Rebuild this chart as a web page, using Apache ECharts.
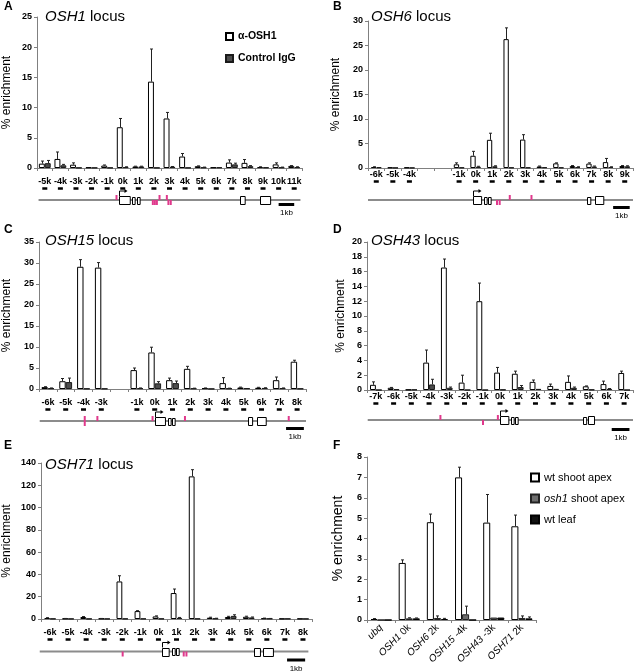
<!DOCTYPE html>
<html>
<head>
<meta charset="utf-8">
<script src="https://cdn.jsdelivr.net/npm/echarts@6/dist/echarts.min.js"></script>
<style>
  html, body { margin: 0; padding: 0; background: #fff; }
  #chart { width: 638px; height: 671px; }
</style>
</head>
<body>
<div id="chart"></div>
<script>
// ---- A: OSH1 locus
const aCats = ['-5k','-4k','-3k','-2k','-1k','0k','1k','2k','3k','4k','5k','6k','7k','8k','9k','10k','11k'];
const aOsh = [0.72, 1.5, 0.55, 0.1, 0.4, 6.75, 0.25, 14.3, 8.2, 1.9, 0.3, 0.1, 0.9, 0.85, 0.15, 0.6, 0.35];
const aOshErr = [0.43, 1.15, 0.3, 0, 0.1, 1.45, 0.05, 5.4, 1.0, 0.5, 0.05, 0, 0.45, 0.55, 0.05, 0.25, 0.05];
const aIgg = [0.8, 0.45, 0.05, 0.05, 0.05, 0.15, 0.25, 0.05, 0.2, 0.05, 0.1, 0.1, 0.6, 0.3, 0.1, 0.1, 0.15];
const aIggErr = [0.45, 0.15, 0, 0, 0, 0.05, 0.05, 0, 0.05, 0, 0.05, 0, 0.2, 0.1, 0, 0.05, 0.05];
const aLine = [-5.4, 11.4];
const aExons = [[-0.22, 0.47], [0.62, 0.79], [0.9, 1.07], [7.5, 7.8], [8.8, 9.45]];
const aPinks = [[-0.4, 1], [1.93, -1], [2.06, -1], [2.19, -1], [2.36, 1], [2.83, 1], [2.93, -1], [3.08, -1]];
const aTss = -0.22;
const aScale = 10.0;

// ---- B: OSH6 locus
const bCats = ['-6k','-5k','-4k','','','-1k','0k','1k','2k','3k','4k','5k','6k','7k','8k','9k'];
const bOsh = [0.2, 0.1, 0.1, null, null, 0.75, 2.5, 5.75, 26.3, 5.8, 0.3, 0.95, 0.4, 0.9, 1.2, 0.4];
const bOshErr = [0.05, 0, 0, 0, 0, 0.3, 0.9, 1.35, 2.3, 1.0, 0.1, 0.1, 0.1, 0.15, 0.75, 0.1];
const bIgg = [0.15, 0.05, 0.05, null, null, 0.1, 0.25, 0.35, 0.1, 0.1, 0.15, 0.1, 0.2, 0.3, 0.2, 0.35];
const bIggErr = [0, 0, 0, 0, 0, 0, 0.1, 0.1, 0, 0, 0, 0, 0.05, 0.1, 0.05, 0.1];
const bLine = [-6.5, 9.5];
const bExons = [[-0.14, 0.35], [0.49, 0.65], [0.75, 0.91], [6.74, 6.94], [7.18, 7.68]];
const bPinks = [[1.29, -1], [1.45, -1], [2.06, 1], [3.37, 1]];
const bTss = -0.14;
const bScale = 8.3;

// ---- C: OSH15 locus
const cCats = ['-6k','-5k','-4k','-3k','','-1k','0k','1k','2k','3k','4k','5k','6k','7k','8k'];
const cOsh = [0.45, 1.85, 29.1, 28.9, null, 4.5, 8.7, 2.1, 4.8, 0.2, 1.4, 0.35, 0.3, 2.1, 6.5];
const cOshErr = [0.1, 0.65, 1.7, 1.2, 0, 0.5, 1.25, 0.5, 0.6, 0.05, 1.3, 0.1, 0.1, 0.75, 0.35];
const cIgg = [0.2, 1.65, 0.1, 0.1, null, 0.2, 1.35, 1.4, 0.15, 0.05, 0.15, 0.2, 0.25, 0.2, 0.1];
const cIggErr = [0.05, 0.95, 0, 0, 0, 0.05, 0.4, 0.5, 0.05, 0, 0.05, 0, 0.05, 0.05, 0];
const cLine = [-6.46, 8.5];
const cExons = [[0.03, 0.59], [0.72, 0.87], [0.98, 1.13], [5.26, 5.49], [5.73, 6.22]];
const cPinks = [[-3.93, 0], [-3.22, 1], [-0.12, 1], [1.7, 1], [7.53, 1]];
const cTss = 0.03;
const cScale = 7.38;

// ---- D: OSH43 locus
const dCats = ['-7k','-6k','-5k','-4k','-3k','-2k','-1k','0k','1k','2k','3k','4k','5k','6k','7k'];
const dOsh = [0.7, 0.3, 0.05, 3.7, 16.55, 1.0, 12.0, 2.35, 2.2, 1.1, 0.55, 1.1, 0.5, 0.8, 2.3];
const dOshErr = [0.4, 0.05, 0, 1.7, 1.15, 1.0, 2.45, 0.7, 0.35, 0.25, 0.25, 0.8, 0.05, 0.4, 0.25];
const dIgg = [0, 0.1, 0.05, 0.75, 0.3, 0, 0, 0.05, 0.4, 0.15, 0.15, 0.3, 0.05, 0.15, 0];
const dIggErr = [0, 0, 0, 0.7, 0.1, 0, 0, 0, 0.2, 0, 0, 0.1, 0, 0.05, 0];
const dLine = [-7.46, 7.5];
const dExons = [[0.01, 0.48], [0.6, 0.75], [0.84, 0.99], [4.67, 4.85], [4.97, 5.31]];
const dPinks = [[-3.36, 1], [-0.96, -1], [-0.12, 1]];
const dTss = 0.01;
const dScale = 6.3;

// ---- E: OSH71 locus
const eCats = ['-6k','-5k','-4k','-3k','-2k','-1k','0k','1k','2k','3k','4k','5k','6k','7k','8k'];
const eOsh = [0.9, 0.4, 1.8, 0.4, 33.7, 7.1, 2.3, 23.3, 128, 1.2, 1.8, 2.0, 0.6, 0.3, 0.3];
const eOshErr = [0.3, 0.1, 0.4, 0.1, 5.1, 0.4, 0.5, 3.6, 6, 0.4, 0.6, 0.5, 0.2, 0.1, 0.1];
const eIgg = [0.3, 0.2, 0.2, 0.2, 0.3, 0.3, 0.3, 1.0, 0.3, 0.5, 2.8, 1.4, 0.4, 0.3, 0.2];
const eIggErr = [0, 0, 0, 0, 0, 0, 0, 0.4, 0, 0.2, 1.0, 0.4, 0.1, 0, 0];
const eLine = [-6.57, 8.3];
const eExons = [[0.2, 0.57], [0.75, 0.9], [0.99, 1.14], [5.31, 5.64], [5.79, 6.34]];
const ePinks = [[-1.98, -1], [1.4, -1], [1.55, -1]];
const eTss = 0.2;
const eScale = 7.12;

// ---- F: summary
const fCats = ['ubq', 'OSH1 0k', 'OSH6 2k', 'OSH15 -4k', 'OSH43 -3k', 'OSH71 2k'];
const fWt = [0.05, 2.8, 4.8, 7.0, 4.78, 4.6];
const fWtErr = [0.02, 0.15, 0.4, 0.5, 1.38, 0.55];
const fOsh1 = [0, 0.08, 0.1, 0.28, 0.12, 0.1];
const fOsh1Err = [0, 0.03, 0.1, 0.4, 0, 0.1];
const fLeaf = [0, 0.08, 0.05, 0, 0.12, 0.08];
const fLeafErr = [0, 0.02, 0.03, 0, 0, 0.07];

const FONT = '"Liberation Sans", Arial, Helvetica, sans-serif';
const AXIS_GRAY = '#808080';
const PINK = '#e0398c';

const panels = [
  { name: 'OSH1', letter: 'A', cats: aCats, kb0: -5, osh: aOsh, oshErr: aOshErr, igg: aIgg, iggErr: aIggErr,
    line: aLine, exons: aExons, pinks: aPinks, tss: aTss, scale: aScale, max: 25, step: 5,
    rect: { left: 37, top: 17, width: 265, height: 151 }, geneY: 200, margin: 9, nameGap: 24, ratio: 0.38, scaleOff: 3,
    titleX: 45, titleY: 17, letterX: 4, letterY: 7 },
  { name: 'OSH6', letter: 'B', cats: bCats, kb0: -6, osh: bOsh, oshErr: bOshErr, igg: bIgg, iggErr: bIggErr,
    line: bLine, exons: bExons, pinks: bPinks, tss: bTss, scale: bScale, max: 30, step: 5,
    rect: { left: 368, top: 21, width: 265, height: 147 }, geneY: 200, margin: 2, nameGap: 26, ratio: 0.32, scaleOff: 6,
    titleX: 371, titleY: 17, letterX: 333, letterY: 7 },
  { name: 'OSH15', letter: 'C', cats: cCats, kb0: -6, osh: cOsh, oshErr: cOshErr, igg: cIgg, iggErr: cIggErr,
    line: cLine, exons: cExons, pinks: cPinks, tss: cTss, scale: cScale, max: 35, step: 5,
    rect: { left: 39, top: 242, width: 267, height: 147 }, geneY: 421, margin: 9, nameGap: 26, ratio: 0.36, scaleOff: 6,
    titleX: 45, titleY: 241, letterX: 4, letterY: 230 },
  { name: 'OSH43', letter: 'D', cats: dCats, kb0: -7, osh: dOsh, oshErr: dOshErr, igg: dIgg, iggErr: dIggErr,
    line: dLine, exons: dExons, pinks: dPinks, tss: dTss, scale: dScale, max: 20, step: 2,
    rect: { left: 367, top: 242, width: 266, height: 148 }, geneY: 420, margin: 2, nameGap: 20, ratio: 0.33, scaleOff: 8,
    titleX: 371, titleY: 241, letterX: 333, letterY: 230 },
  { name: 'OSH71', letter: 'E', cats: eCats, kb0: -6, osh: eOsh, oshErr: eOshErr, igg: eIgg, iggErr: eIggErr,
    line: eLine, exons: eExons, pinks: ePinks, tss: eTss, scale: eScale, max: 140, step: 20,
    rect: { left: 41, top: 463, width: 271, height: 156 }, geneY: 652, margin: 9, nameGap: 28, ratio: 0.32, scaleOff: 7,
    titleX: 45, titleY: 465, letterX: 4, letterY: 446 }
];

const grids = [], xAxes = [], yAxes = [], series = [], graphics = [];

function yAxisCfg(gi, max, step, nameGap, nameSize) {
  return {
    gridIndex: gi, type: 'value', min: 0, max: max, interval: step,
    axisLine: { show: true, lineStyle: { color: AXIS_GRAY } },
    axisTick: { show: true, length: 3, lineStyle: { color: AXIS_GRAY } },
    splitLine: { show: false },
    axisLabel: { color: '#000', fontSize: 9, fontWeight: 'bold', fontFamily: FONT, margin: 5 },
    name: '% enrichment', nameLocation: 'middle', nameGap: nameGap,
    nameTextStyle: { fontSize: nameSize, color: '#000', fontFamily: FONT }
  };
}

function errSeries(gi, name, vals, errs, k, n, ratio) {
  const data = [];
  vals.forEach((v, i) => { if (v != null && errs[i]) data.push([i, v, v + errs[i]]); });
  return {
    type: 'custom', name: name + ' err', xAxisIndex: gi, yAxisIndex: gi, silent: true, z: 5,
    data: data,
    renderItem(params, api) {
      const bw = api.size([1, 0])[0] * ratio;
      const base = api.coord([api.value(0), api.value(1)]);
      const top = api.coord([api.value(0), api.value(2)]);
      const x = Math.round(base[0] - n * bw / 2 + (k + 0.5) * bw) + 0.5;
      return { type: 'group', children: [
        { type: 'line', shape: { x1: x, y1: base[1], x2: x, y2: top[1] }, style: { stroke: '#222', lineWidth: 1 } },
        { type: 'line', shape: { x1: x - 1.5, y1: top[1], x2: x + 1.5, y2: top[1] }, style: { stroke: '#222', lineWidth: 1 } }
      ] };
    }
  };
}

// gene diagram: [kind, a, b]  kind 0 line, 1 exon, 2 pink, 3 tss, 4 scale bar
function geneSeries(gi, p) {
  const data = [[0, p.line[0], p.line[1]]];
  p.exons.forEach(e => data.push([1, e[0], e[1]]));
  p.pinks.forEach(m => data.push([2, m[0], m[1]]));
  data.push([3, p.tss, p.tss]);
  data.push([4, p.scale, p.scale + 1]);
  return {
    type: 'custom', xAxisIndex: gi, yAxisIndex: gi, silent: true,
    encode: { x: [1, 2] },
    data: data,
    renderItem(params, api) {
      const kind = api.value(0), a = api.value(1), b = api.value(2);
      const p0 = api.coord([a, 0]), p1 = api.coord([kind === 2 ? a : b, 0]);
      const y = p0[1];
      if (kind === 0) {
        return { type: 'rect', shape: { x: p0[0], y: y - 1, width: p1[0] - p0[0], height: 2 }, style: { fill: '#8c8c8c' } };
      }
      if (kind === 1) {
        const w = p1[0] - p0[0];
        const h = w > 4 ? 8 : 7;
        return { type: 'rect', z2: 2, shape: { x: Math.round(p0[0]) + 0.5, y: Math.round(y - h / 2) + 0.5, width: Math.max(w, 2), height: h },
          style: { fill: '#fff', stroke: '#000', lineWidth: 1 } };
      }
      if (kind === 2) {
        const yTop = b > 0 ? y - 5 : (b < 0 ? y : y - 5);
        const h = b === 0 ? 10 : 5;
        return { type: 'rect', z2: 3, shape: { x: p0[0] - 1, y: yTop, width: 2, height: h }, style: { fill: PINK } };
      }
      if (kind === 3) {
        const x = Math.round(p0[0]) + 0.5;
        return { type: 'group', children: [
          { type: 'polyline', shape: { points: [[x, y - 4], [x, y - 9], [x + 6, y - 9]] }, style: { stroke: '#000', lineWidth: 1, fill: null } },
          { type: 'polygon', shape: { points: [[x + 8, y - 9], [x + 5, y - 11], [x + 5, y - 7]] }, style: { fill: '#000' } }
        ] };
      }
      const off = p.scaleOff;
      return { type: 'group', children: [
        { type: 'rect', shape: { x: p0[0], y: y + off, width: p1[0] - p0[0], height: 3 }, style: { fill: '#000' } },
        { type: 'text', x: (p0[0] + p1[0]) / 2, y: y + off + 10, style: { text: '1kb', fontSize: 8, fontFamily: FONT, fill: '#000', align: 'center', verticalAlign: 'middle' } }
      ] };
    }
  };
}

panels.forEach((p, idx) => {
  const gi = idx * 2, gg = idx * 2 + 1;
  const n = p.cats.length;
  grids.push(Object.assign({}, p.rect));
  grids.push({ left: p.rect.left, width: p.rect.width, top: p.geneY - 20, height: 40 });
  xAxes.push({
    gridIndex: gi, type: 'category', data: p.cats,
    axisLine: { lineStyle: { color: AXIS_GRAY } },
    axisTick: { show: true, interval: 0, length: 3, lineStyle: { color: AXIS_GRAY } },
    axisLabel: {
      interval: 0, color: '#000', fontSize: 9, fontWeight: 'bold', fontFamily: FONT, margin: p.margin, lineHeight: 10,
      formatter: v => v ? v + '\n{d|}' : '',
      rich: { d: { width: 5, height: 2.5, lineHeight: 3, padding: 0, backgroundColor: '#000' } }
    }
  });
  yAxes.push(yAxisCfg(gi, p.max, p.step, p.nameGap, 12));
  xAxes.push({ gridIndex: gg, type: 'value', min: p.kb0 - 0.5, max: p.kb0 + n - 0.5, show: false });
  yAxes.push({ gridIndex: gg, type: 'value', min: -1, max: 1, show: false });

  const bw = Math.round(p.ratio * 100) + '%';
  series.push({ type: 'bar', name: 'α-OSH1', xAxisIndex: gi, yAxisIndex: gi, data: p.osh, barWidth: bw, barGap: '0%',
    itemStyle: { color: '#fff', borderColor: '#000', borderWidth: 1 } });
  series.push({ type: 'bar', name: 'Control IgG', xAxisIndex: gi, yAxisIndex: gi, data: p.igg, barWidth: bw, barGap: '0%',
    itemStyle: { color: '#4d4d4d', borderColor: '#1a1a1a', borderWidth: 1 } });
  series.push(errSeries(gi, 'α-OSH1', p.osh, p.oshErr, 0, 2, p.ratio));
  series.push(errSeries(gi, 'Control IgG', p.igg, p.iggErr, 1, 2, p.ratio));
  series.push(geneSeries(gg, p));

  graphics.push({ type: 'text', x: p.titleX, y: p.titleY, style: {
    text: '{i|' + p.name + '} locus', fontSize: 15, fontFamily: FONT, fill: '#000', verticalAlign: 'middle',
    rich: { i: { fontStyle: 'italic', fontSize: 15, fontFamily: FONT } } } });
  graphics.push({ type: 'text', x: p.letterX, y: p.letterY, style: {
    text: p.letter, fontSize: 12, fontWeight: 'bold', fontFamily: FONT, fill: '#000', verticalAlign: 'middle' } });
});

// ---- F grid
const fi = grids.length;
grids.push({ left: 367, top: 457, width: 169, height: 163 });
xAxes.push({
  gridIndex: fi, type: 'category', data: fCats,
  axisLine: { lineStyle: { color: AXIS_GRAY } },
  axisTick: { show: true, interval: 0, length: 3, lineStyle: { color: AXIS_GRAY } },
  axisLabel: {
    interval: 0, rotate: 45, color: '#000', fontSize: 10, fontFamily: FONT, margin: 6,
    formatter: v => v === 'ubq' ? '{i|ubq}' : v.replace(/^(\S+)/, '{i|$1}'),
    rich: { i: { fontStyle: 'italic', fontSize: 10, fontFamily: FONT } }
  }
});
yAxes.push(yAxisCfg(fi, 8, 1, 22, 14));
const fRatio = 0.25;
[['wt shoot apex', fWt, fWtErr, { color: '#fff', borderColor: '#000', borderWidth: 1 }],
 ['osh1 shoot apex', fOsh1, fOsh1Err, { color: '#6e6e6e', borderColor: '#222', borderWidth: 1 }],
 ['wt leaf', fLeaf, fLeafErr, { color: '#111', borderColor: '#000', borderWidth: 1 }]
].forEach((s, k) => {
  series.push({ type: 'bar', name: s[0], xAxisIndex: fi, yAxisIndex: fi, data: s[1], barWidth: '25%', barGap: '0%', itemStyle: s[3] });
  series.push(errSeries(fi, s[0], s[1], s[2], k, 3, fRatio));
});
graphics.push({ type: 'text', x: 333, y: 446, style: { text: 'F', fontSize: 12, fontWeight: 'bold', fontFamily: FONT, fill: '#000', verticalAlign: 'middle' } });

const option = {
  animation: false,
  backgroundColor: '#fff',
  grid: grids,
  xAxis: xAxes,
  yAxis: yAxes,
  legend: [
    { data: ['α-OSH1', 'Control IgG'], orient: 'vertical', left: 220, top: 26, itemWidth: 7, itemHeight: 7, itemGap: 11,
      icon: 'rect', selectedMode: false,
      textStyle: { fontSize: 10.5, fontWeight: 'bold', fontFamily: FONT, color: '#000' } },
    { data: ['wt shoot apex', 'osh1 shoot apex', 'wt leaf'], orient: 'vertical', left: 525, top: 467, itemWidth: 8, itemHeight: 8,
      itemGap: 10, icon: 'rect', selectedMode: false,
      formatter: name => name.indexOf('osh1') === 0 ? '{i|osh1}' + name.slice(4) : name,
      textStyle: { fontSize: 11, fontFamily: FONT, color: '#000', rich: { i: { fontStyle: 'italic', fontSize: 11, fontFamily: FONT } } } }
  ],
  graphic: graphics,
  series: series
};

const chart = echarts.init(document.getElementById('chart'), null, { renderer: 'canvas' });
chart.setOption(option);
</script>
</body>
</html>
